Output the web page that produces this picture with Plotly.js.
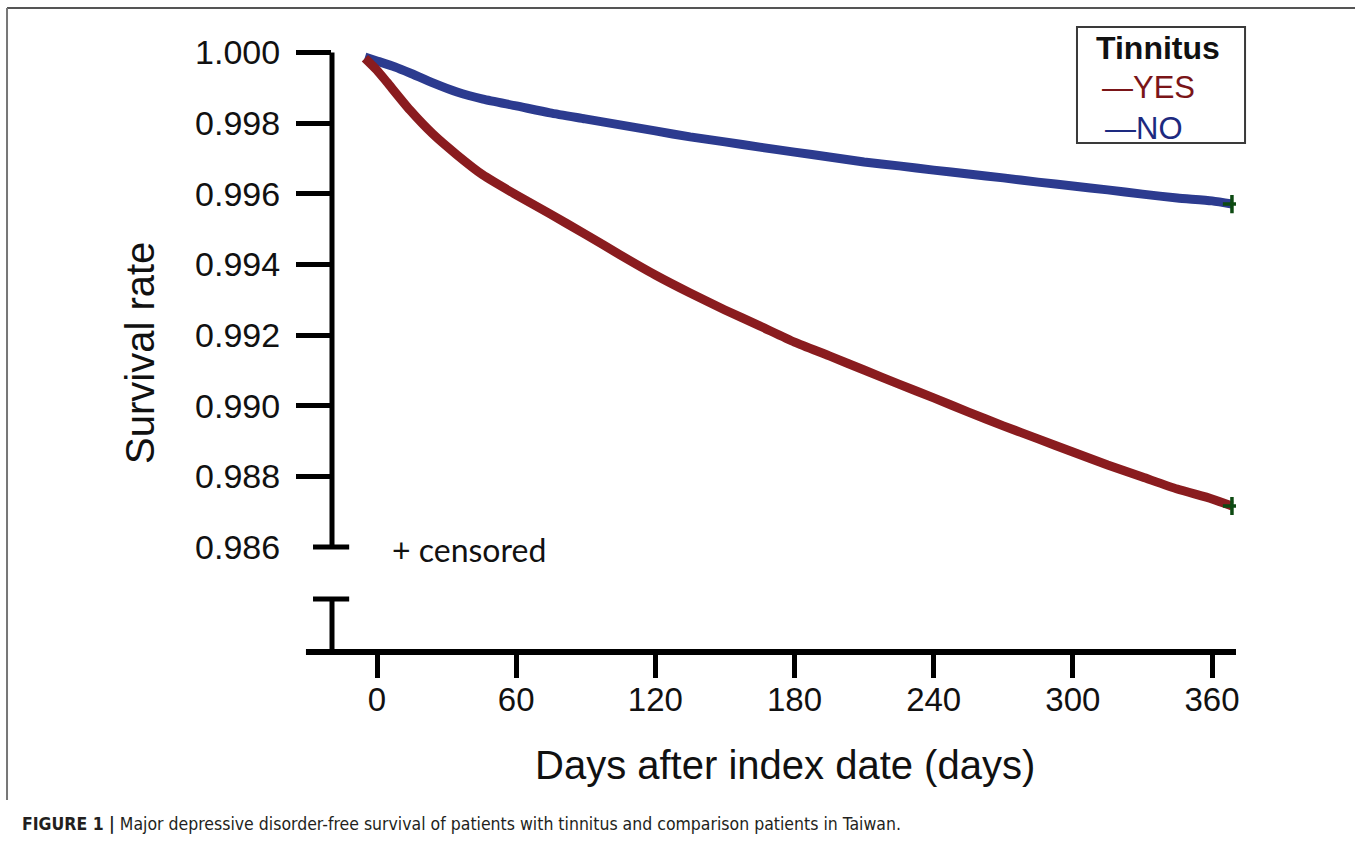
<!DOCTYPE html>
<html>
<head>
<meta charset="utf-8">
<script src="https://cdn.plot.ly/plotly-3.0.1.min.js"></script>
<style>html,body{margin:0;padding:0;background:#fff;}#chart{width:1355px;height:852px;}</style>
</head>
<body>
<div id="chart"></div>
<script>
// ---- data ----
const daysYes = [-5.2, 0, 4.3, 14.2, 24.1, 34.5, 45.7, 60, 74.6, 89.7, 104.8, 120, 135, 150, 165, 180, 195, 210, 225, 240, 255, 270, 285, 300, 315, 330, 345, 360, 368.6];
const survYes = [0.99984, 0.99950, 0.99916, 0.99837, 0.99769, 0.99710, 0.99653, 0.99597, 0.99543, 0.99486, 0.99427, 0.99370, 0.99319, 0.99271, 0.99226, 0.99180, 0.99141, 0.99101, 0.99061, 0.99022, 0.98982, 0.98943, 0.98906, 0.98869, 0.98832, 0.98798, 0.98764, 0.98736, 0.98716];
const daysNo = [-5.2, 0, 7.8, 14.2, 24.1, 34.5, 45.7, 60, 74.6, 89.7, 104.8, 120, 135, 150, 165, 180, 195, 210, 225, 240, 255, 270, 285, 300, 315, 330, 345, 360, 368.6];
const survNo = [0.99987, 0.99976, 0.99959, 0.99942, 0.99914, 0.99888, 0.99868, 0.99849, 0.99829, 0.99812, 0.99795, 0.99778, 0.99761, 0.99747, 0.99732, 0.99718, 0.99704, 0.99690, 0.99679, 0.99667, 0.99656, 0.99645, 0.99633, 0.99622, 0.99611, 0.99599, 0.99588, 0.99580, 0.99571];
const censorDays = [368.6, 368.6];
const censorSurv = [0.99571, 0.98716];

const yTickVals = [0.986, 0.988, 0.990, 0.992, 0.994, 0.996, 0.998, 1.000];
const yTickText = ["0.986", "0.988", "0.990", "0.992", "0.994", "0.996", "0.998", "1.000"];
const yMarkedTicks = [0.988, 0.990, 0.992, 0.994, 0.996, 0.998, 1.000];
const xTickVals = [0, 60, 120, 180, 240, 300, 360];
const xTickText = ["0", "60", "120", "180", "240", "300", "360"];

const yBreakLow = 0.98453;   // lower end of the axis break
const yRange = [0.983027, 1.000354];
const xRange = [-19.40, 370.34];

const groupNames = ["YES", "NO"];
const legendTitle = "Tinnitus";
const xTitle = "Days after index date (days)";
const yTitle = "Survival rate";
const censorNote = "+ censored";
const caption = "<b>FIGURE 1 |</b> Major depressive disorder-free survival of patients with tinnitus and comparison patients in Taiwan.";

const RED = "#8a1c1f";
const BLUE = "#2c3b8f";
const FONT = "Liberation Sans, Arial, sans-serif";

const traces = [
  {x: daysNo, y: survNo, type: "scatter", mode: "lines", name: groupNames[1],
   line: {color: BLUE, width: 9, shape: "spline", smoothing: 0.6}, showlegend: false, hoverinfo: "skip"},
  {x: daysYes, y: survYes, type: "scatter", mode: "lines", name: groupNames[0],
   line: {color: RED, width: 9, shape: "spline", smoothing: 0.6}, showlegend: false, hoverinfo: "skip"},
  {x: censorDays, y: censorSurv, type: "scatter", mode: "markers", name: "censored",
   marker: {symbol: "cross-thin", size: 13, line: {color: "#0d4a12", width: 3.5}},
   showlegend: false, hoverinfo: "skip"},
  {x: [null], y: [null], yaxis: "y2", type: "scatter", showlegend: false, hoverinfo: "skip"}
];

const BL = "#000";
const layout = {
  width: 1355, height: 852,
  margin: {l: 332, r: 119, t: 40, b: 200},
  paper_bgcolor: "#ffffff",
  plot_bgcolor: "rgba(0,0,0,0)",
  showlegend: false,
  font: {family: FONT, color: "#111"},
  xaxis: {
    range: xRange, showgrid: false, zeroline: false, showline: false,
    tickvals: xTickVals, ticktext: xTickText,
    ticks: "outside", ticklen: 25, tickwidth: 5, tickcolor: BL,
    ticklabelstandoff: -7,
    tickfont: {size: 33, family: FONT, color: "#111"}
  },
  yaxis: {
    range: yRange, showgrid: false, zeroline: false, showline: false,
    tickvals: yTickVals, ticktext: yTickText,
    ticks: "outside", ticklen: 35, tickwidth: 5, tickcolor: "rgba(0,0,0,0)",
    ticklabelstandoff: 9,
    tickfont: {size: 34, family: FONT, color: "#111"}
  },
  yaxis2: {
    range: yRange, overlaying: "y", side: "left", anchor: "x",
    showgrid: false, zeroline: false, showline: false, showticklabels: false,
    tickvals: yMarkedTicks, ticks: "outside", ticklen: 35, tickwidth: 5, tickcolor: BL
  },
  shapes: [
    {type: "line", xref: "paper", yref: "y", x0: 0, x1: 0, y0: yTickVals[0], y1: yTickVals[yTickVals.length - 1], line: {color: BL, width: 5}},
    {type: "line", xref: "paper", yref: "y", x0: -0.021, x1: 0.019, y0: yTickVals[0], y1: yTickVals[0], line: {color: BL, width: 5}},
    {type: "line", xref: "paper", yref: "y", x0: -0.021, x1: 0.019, y0: yBreakLow, y1: yBreakLow, line: {color: BL, width: 5}},
    {type: "line", xref: "paper", yref: "y", x0: 0, x1: 0, y0: yRange[0], y1: yBreakLow, line: {color: BL, width: 5}},
    {type: "line", xref: "paper", yref: "paper", x0: -0.0288, x1: 1, y0: 0, y1: 0, line: {color: BL, width: 6}},
    {type: "rect", xref: "paper", yref: "paper", x0: 0.8241, x1: 1.0100, y0: 0.8317, y1: 1.0212, line: {color: "#3a3a3a", width: 2}, fillcolor: "rgba(255,255,255,0)"},
    {type: "line", xref: "paper", yref: "paper", x0: -0.3595, x1: 1.1317, y0: 1.0523, y1: 1.0523, line: {color: "#555", width: 2}},
    {type: "line", xref: "paper", yref: "paper", x0: -0.3595, x1: -0.3595, y0: 1.0523, y1: -0.2418, line: {color: "#777", width: 2}}
  ],
  annotations: [
    {xref: "paper", yref: "paper", x: -0.2124, y: 0.4886, text: yTitle, textangle: -90, showarrow: false,
     xanchor: "center", yanchor: "middle", font: {size: 40, family: FONT, color: "#111"}},
    {xref: "paper", yref: "paper", x: 0.5011, y: -0.1846, text: xTitle, showarrow: false,
     xanchor: "center", yanchor: "middle", font: {size: 40, family: FONT, color: "#111"}},
    {xref: "paper", yref: "paper", x: 0.0642, y: 0.1683, text: censorNote, showarrow: false,
     xanchor: "left", yanchor: "middle", font: {size: 32, family: "Lato, Open Sans, sans-serif", color: "#111"}},
    {xref: "paper", yref: "paper", x: 0.9137, y: 0.9869, text: "<b>" + legendTitle + "</b>", showarrow: false,
     xanchor: "center", yanchor: "middle", font: {size: 32, family: FONT, color: "#111"}},
    {xref: "paper", yref: "paper", x: 0.8496, y: 0.9232, text: "\u2014" + groupNames[0], showarrow: false,
     xanchor: "left", yanchor: "middle", font: {size: 31, family: FONT, color: "#7a1518"}},
    {xref: "paper", yref: "paper", x: 0.8529, y: 0.8562, text: "\u2014" + groupNames[1], showarrow: false,
     xanchor: "left", yanchor: "middle", font: {size: 31, family: FONT, color: "#1d2a80"}},
    {xref: "paper", yref: "paper", x: -0.345, y: -0.281, text: caption, showarrow: false,
     xanchor: "left", yanchor: "middle", font: {size: 17.5, family: "Liberation Sans Narrow, DejaVu Sans Condensed, Arial Narrow, sans-serif", color: "#231f20"}}
  ]
};

Plotly.newPlot("chart", traces, layout, {staticPlot: true, displayModeBar: false});
</script>
</body>
</html>
